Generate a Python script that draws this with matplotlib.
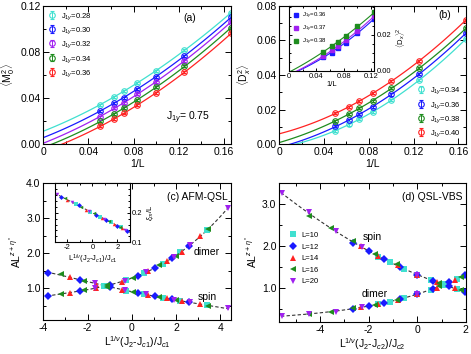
import numpy as np
import matplotlib
matplotlib.use("Agg")
import matplotlib.pyplot as plt
from matplotlib.ticker import MultipleLocator, FuncFormatter

plt.rcParams['font.family'] = ['Liberation Sans', 'DejaVu Sans']
plt.rcParams['mathtext.fontset'] = 'custom'
plt.rcParams['mathtext.rm'] = 'Liberation Sans'
plt.rcParams['mathtext.it'] = 'Liberation Sans:italic'
plt.rcParams['mathtext.sf'] = 'Liberation Sans'
plt.rcParams['axes.unicode_minus'] = False
plt.rcParams['axes.linewidth'] = 0.8

# ---- data ----
L_sizes = [20, 16, 14, 12, 10, 8, 6]

# (a) <M0^2> vs 1/L
a_labels = ['0.28', '0.30', '0.32', '0.34', '0.36']
a_028 = [0.0343, 0.0410, 0.0460, 0.0530, 0.0637, 0.0816, 0.1140]
a_030 = [0.0286, 0.0358, 0.0404, 0.0482, 0.0583, 0.0767, 0.1100]
a_032 = [0.0240, 0.0312, 0.0358, 0.0433, 0.0542, 0.0724, 0.1060]
a_034 = [0.0199, 0.0262, 0.0312, 0.0384, 0.0493, 0.0678, 0.1010]
a_036 = [0.0156, 0.0219, 0.0268, 0.0338, 0.0447, 0.0626, 0.0960]
a_err = 0.0008

# (b) <Dx^2> vs 1/L
b_labels = ['0.34', '0.36', '0.38', '0.40']
b_034 = [0.0079, 0.0115, 0.0146, 0.0187, 0.0256, 0.0369, 0.0608]
b_036 = [0.0104, 0.0140, 0.0173, 0.0217, 0.0288, 0.0408, 0.0640]
b_038 = [0.0135, 0.0175, 0.0210, 0.0252, 0.0323, 0.0438, 0.0669]
b_040 = [0.0179, 0.0217, 0.0250, 0.0294, 0.0365, 0.0481, 0.0717]
b_err = 0.0006

# (b) inset <Dx>^2 vs 1/L (L = 20 ... 8)
bi_labels = ['0.36', '0.37', '0.38']
bi_036 = [0.0075, 0.0101, 0.0127, 0.0156, 0.0211, 0.0288]
bi_037 = [0.0081, 0.0114, 0.0138, 0.0169, 0.0220, 0.0303]
bi_038 = [0.0105, 0.0138, 0.0160, 0.0193, 0.0246, 0.0323]

# (c) AFM-QSL collapse
c_x_L10 = [-1.25, -0.25, 0.55, 1.4, 2.2, 3.4]
c_spin_L10 = [1.08, 0.94, 0.84, 0.74, 0.65, 0.52]
c_dimer_L10 = [1.07, 1.23, 1.44, 1.71, 2.03, 2.66]
c_x_L12 = [-3.8, -2.35, -1.0, 0.3, 1.05, 1.8, 2.6]
c_spin_L12 = [1.45, 1.25, 1.03, 0.87, 0.78, 0.69, 0.60]
c_dimer_L12 = [0.79, 0.93, 1.11, 1.37, 1.59, 1.86, 2.22]
c_x_L14 = [-2.8, -1.6, -0.45, 0.75, 1.6, 2.25, 3.1]
c_spin_L14 = [1.32, 1.14, 0.97, 0.82, 0.72, 0.64, 0.55]
c_dimer_L14 = [0.88, 1.02, 1.18, 1.50, 1.78, 2.05, 2.49]
c_x_L16 = [-3.2, -2.15, -1.1, 0.05, 1.25, 2.0, 3.45]
c_spin_L16 = [1.40, 1.22, 1.05, 0.90, 0.76, 0.67, 0.51]
c_dimer_L16 = [0.84, 0.95, 1.09, 1.30, 1.66, 1.94, 2.69]
c_x_L20 = [-1.65, -0.3, 0.65, 1.9, 2.65, 4.35]
c_spin_L20 = [1.15, 0.95, 0.83, 0.68, 0.60, 0.43]
c_dimer_L20 = [1.01, 1.22, 1.47, 1.90, 2.25, 3.30]

# (c) inset xi/L
ci_x_L10 = [-1.3, -0.2, 0.6, 1.5, 2.3]
ci_xi_L10 = [0.229, 0.204, 0.187, 0.167, 0.150]
ci_x_L12 = [-2.5, -1.1, 0.3, 1.1, 2.0, 2.8]
ci_xi_L12 = [0.255, 0.225, 0.194, 0.176, 0.156, 0.137]
ci_x_L14 = [-2.0, -0.5, 0.8, 1.7, 2.4]
ci_xi_L14 = [0.244, 0.211, 0.182, 0.162, 0.147]
ci_x_L16 = [-2.2, -0.9, 0.1, 1.3, 2.2]
ci_xi_L16 = [0.249, 0.220, 0.198, 0.171, 0.151]
ci_x_L20 = [-2.85, -1.6, -0.3, 0.9, 2.6]
ci_xi_L20 = [0.263, 0.236, 0.207, 0.180, 0.141]

# (d) QSL-VBS collapse
d_x_L10 = [-1.6, -1.1, -0.55, 0.0, 0.55, 1.1, 1.65]
d_spin_L10 = [1.74, 1.62, 1.46, 1.31, 1.19, 1.08, 0.98]
d_dimer_L10 = [0.62, 0.68, 0.76, 0.86, 0.95, 1.09, 1.22]
d_x_L12 = [-2.65, -2.0, -1.35, -0.7, 0.0, 0.65, 1.3, 1.95]
d_spin_L12 = [2.06, 1.88, 1.68, 1.50, 1.31, 1.17, 1.04, 0.90]
d_dimer_L12 = [0.51, 0.58, 0.65, 0.73, 0.86, 0.97, 1.14, 1.31]
d_x_L14 = [-2.3, -1.6, -0.8, 0.0, 0.8, 1.55]
d_spin_L14 = [1.99, 1.75, 1.54, 1.31, 1.14, 1.00]
d_dimer_L14 = [0.55, 0.62, 0.72, 0.86, 1.01, 1.20]
d_x_L16 = [-4.45, -3.55, -2.65, -1.75, -0.85, 0.9, 1.8]
d_spin_L16 = [2.71, 2.43, 2.12, 1.80, 1.56, 1.12, 0.95]
d_dimer_L16 = [0.38, 0.44, 0.52, 0.60, 0.71, 1.04, 1.26]
d_x_L20 = [-5.55, -4.45, -3.35, -2.25, 0.0]
d_spin_L20 = [3.25, 2.81, 2.35, 1.98, 1.31]
d_dimer_L20 = [0.34, 0.38, 0.44, 0.55, 0.86]

L_labels = ['L=10', 'L=12', 'L=14', 'L=16', 'L=20']

# ---- style ----
TURQ = '#40e0d0'
BLUE = '#1a1aff'
VIOL = '#a020f0'
GREEN = '#1e8c1e'
RED = '#ff2222'
L_colors = [TURQ, BLUE, RED, GREEN, VIOL]
L_markers = ['s', 'D', '^', '<', 'v']
FS = 7.5


def style_ax(ax, xmaj, xmin, ymaj, ymin):
    ax.xaxis.set_major_locator(MultipleLocator(xmaj))
    ax.xaxis.set_minor_locator(MultipleLocator(xmin))
    ax.yaxis.set_major_locator(MultipleLocator(ymaj))
    ax.yaxis.set_minor_locator(MultipleLocator(ymin))
    ax.tick_params(which='both', direction='in', top=True, right=True,
                   labelsize=FS, width=0.7, pad=2)
    ax.tick_params(which='major', length=4)
    ax.tick_params(which='minor', length=2)


def fmt_dec(n):
    return FuncFormatter(lambda v, p: '0' if abs(v) < 1e-9 else f'{v:.{n}f}')


fig = plt.figure(figsize=(4.71, 3.54), dpi=100)
inv_L = np.array([1.0 / L for L in L_sizes])
xfit = np.linspace(0, 1 / 6, 100)

# (a)
ax = fig.add_axes([0.092, 0.592, 0.399, 0.392])
for y, lab, col in zip([a_028, a_030, a_032, a_034, a_036], a_labels,
                       [TURQ, BLUE, VIOL, GREEN, RED]):
    c = np.polyfit(inv_L, y, 2)
    ax.plot(xfit, np.polyval(c, xfit), color=col, lw=0.9)
    ax.errorbar(inv_L, y, yerr=a_err, fmt='o', ms=4, mfc='none', mec=col,
                mew=0.8, ecolor=col, elinewidth=0.7, capsize=1.5,
                label=r'J$_{1y}$=' + lab)
ax.set_xlim(0, 1 / 6)
ax.set_ylim(0, 0.12)
style_ax(ax, 0.04, 0.02, 0.04, 0.02)
ax.xaxis.set_major_formatter(fmt_dec(2))
ax.yaxis.set_major_formatter(FuncFormatter(lambda v, p: f'{v:.2f}'))
ax.set_xlabel('1/L', fontsize=FS, labelpad=1)
ax.set_ylabel(r'$\langle$M$_0^2\rangle$', fontsize=FS, labelpad=2)
ax.legend(loc='upper left', fontsize=5.5, frameon=False, handlelength=1,
          handletextpad=0.6, labelspacing=0.45, borderaxespad=0.3)
ax.text(0.78, 0.91, '(a)', transform=ax.transAxes, fontsize=FS, ha='center', va='center')
ax.text(0.77, 0.19, r'J$_{1y}$= 0.75', transform=ax.transAxes, fontsize=FS,
        ha='center', va='center')

# (b)
ax = fig.add_axes([0.593, 0.592, 0.396, 0.392])
for y, lab, col in zip([b_034, b_036, b_038, b_040], b_labels,
                       [TURQ, BLUE, GREEN, RED]):
    c = np.polyfit(inv_L, y, 2)
    ax.plot(xfit, np.polyval(c, xfit), color=col, lw=0.9)
    ax.errorbar(inv_L, y, yerr=b_err, fmt='o', ms=4, mfc='none', mec=col,
                mew=0.8, ecolor=col, elinewidth=0.7, capsize=1.5,
                label=r'J$_{1y}$=' + lab)
ax.set_xlim(0, 1 / 6)
ax.set_ylim(0, 0.08)
style_ax(ax, 0.04, 0.02, 0.02, 0.01)
ax.xaxis.set_major_formatter(fmt_dec(2))
ax.yaxis.set_major_formatter(FuncFormatter(lambda v, p: f'{v:.2f}'))
ax.set_xlabel('1/L', fontsize=FS, labelpad=1)
ax.set_ylabel(r'$\langle$D$_x^2\rangle$', fontsize=FS, labelpad=2)
ax.legend(loc='lower right', fontsize=5.5, frameon=False, handlelength=1,
          handletextpad=0.6, labelspacing=0.45, borderaxespad=0.3)
ax.text(0.887, 0.93, '(b)', transform=ax.transAxes, fontsize=FS, ha='center', va='center')

# (b) inset
ins = fig.add_axes([0.614, 0.80, 0.181, 0.184])
xi = inv_L[:6]
xfit2 = np.linspace(0, 0.125, 100)
for y, lab, col in zip([bi_036, bi_037, bi_038], bi_labels, [BLUE, VIOL, GREEN]):
    c = np.polyfit(xi, y, 2)
    ins.plot(xfit2, np.polyval(c, xfit2), color=col, lw=0.8)
    ins.plot(xi, y, 's', ms=2.8, color=col, label=r'J$_{1y}$=' + lab)
ins.set_xlim(0, 0.125)
ins.set_ylim(0, 0.036)
style_ax(ins, 0.04, 0.02, 0.02, 0.005)
ins.tick_params(labelsize=5.5, labelleft=False, labelright=True, length=2.5, pad=1.5)
ins.tick_params(which='minor', length=1.3)
ins.xaxis.set_major_formatter(fmt_dec(2))
ins.yaxis.set_major_formatter(FuncFormatter(lambda v, p: f'{v:.2f}'))
ins.yaxis.set_label_position('right')
ins.set_ylabel(r'$\langle$D$_x\rangle^2$', fontsize=5.5, labelpad=2)
ins.set_xlabel('1/L', fontsize=5.5, labelpad=1)
ins.legend(loc='upper left', fontsize=4.3, frameon=False, handlelength=0.8,
           handletextpad=0.6, labelspacing=0.5, borderaxespad=0.4)

# (c)
ax = fig.add_axes([0.092, 0.096, 0.399, 0.386])
cx = [c_x_L10, c_x_L12, c_x_L14, c_x_L16, c_x_L20]
cs = [c_spin_L10, c_spin_L12, c_spin_L14, c_spin_L16, c_spin_L20]
cd = [c_dimer_L10, c_dimer_L12, c_dimer_L14, c_dimer_L16, c_dimer_L20]
allx = np.concatenate(cx)
xf = np.linspace(allx.min() - 0.05, allx.max() + 0.05, 200)
for ys in (cs, cd):
    c = np.polyfit(allx, np.concatenate(ys), 4)
    ax.plot(xf, np.polyval(c, xf), color='#333333', lw=0.8, ls=(0, (3, 2)), zorder=1)
for x, s, d, col, m in zip(cx, cs, cd, L_colors, L_markers):
    ax.plot(x, s, m, ms=3.8, color=col, mew=0, zorder=2)
    ax.plot(x, d, m, ms=3.8, color=col, mew=0, zorder=2)
ax.set_xlim(-4, 4.5)
ax.set_ylim(0.1, 4.0)
style_ax(ax, 2, 1, 1.0, 0.5)
ax.xaxis.set_major_formatter(FuncFormatter(lambda v, p: f'{v:.0f}'))
ax.yaxis.set_major_formatter(FuncFormatter(lambda v, p: f'{v:.1f}' if v >= 0.99 else ''))
ax.set_xlabel(r'L$^{1/\nu}$(J$_2$-J$_{c1}$)/J$_{c1}$', fontsize=FS, labelpad=1)
ax.set_ylabel(r'AL$^{z+\eta^*}$', fontsize=FS, labelpad=2)
ax.text(0.98, 0.90, '(c) AFM-QSL', transform=ax.transAxes, fontsize=FS, ha='right', va='center')
ax.text(0.87, 0.495, 'dimer', transform=ax.transAxes, fontsize=FS, ha='center', va='center')
ax.text(0.87, 0.166, 'spin', transform=ax.transAxes, fontsize=FS, ha='center', va='center')

# (c) inset
ins = fig.add_axes([0.116, 0.316, 0.160, 0.166])
cix = [ci_x_L10, ci_x_L12, ci_x_L14, ci_x_L16, ci_x_L20]
ciy = [ci_xi_L10, ci_xi_L12, ci_xi_L14, ci_xi_L16, ci_xi_L20]
ax_all = np.concatenate(cix)
c = np.polyfit(ax_all, np.concatenate(ciy), 1)
xf = np.linspace(-3, 3, 50)
ins.plot(xf, np.polyval(c, xf), color='#333333', lw=0.7, ls=(0, (3, 2)), zorder=1)
for x, y, col, m in zip(cix, ciy, L_colors, L_markers):
    ins.plot(x, y, m, ms=2.5, color=col, mew=0, zorder=2)
ins.set_xlim(-3, 3)
ins.set_ylim(0.1, 0.3)
style_ax(ins, 2, 1, 0.1, 0.02)
ins.tick_params(labelsize=5.5, labelleft=False, labelright=True, length=2.5, pad=1.5)
ins.tick_params(which='minor', length=1.3)
ins.xaxis.set_major_formatter(FuncFormatter(lambda v, p: f'{v:.0f}'))
ins.yaxis.set_major_formatter(FuncFormatter(lambda v, p: f'{v:.1f}' if v < 0.25 else ''))
ins.yaxis.set_label_position('right')
ins.set_ylabel(r'$\xi_m$/L', fontsize=5.5, labelpad=2)
ins.set_xlabel(r'L$^{1/\nu}$(J$_2$-J$_{c1}$)/J$_{c1}$', fontsize=5.5, labelpad=1)

# (d)
ax = fig.add_axes([0.593, 0.091, 0.396, 0.393])
dx = [d_x_L10, d_x_L12, d_x_L14, d_x_L16, d_x_L20]
ds = [d_spin_L10, d_spin_L12, d_spin_L14, d_spin_L16, d_spin_L20]
dd = [d_dimer_L10, d_dimer_L12, d_dimer_L14, d_dimer_L16, d_dimer_L20]
allx = np.concatenate(dx)
xf = np.linspace(allx.min() - 0.05, 2.0, 200)
for ys in (ds, dd):
    c = np.polyfit(allx, np.concatenate(ys), 3)
    ax.plot(xf, np.polyval(c, xf), color='#333333', lw=0.8, ls=(0, (3, 2)), zorder=1)
for x, s, d, col, m, lab in zip(dx, ds, dd, L_colors, L_markers, L_labels):
    ax.plot(x, s, m, ms=3.8, color=col, mew=0, zorder=2, label=lab)
    ax.plot(x, d, m, ms=3.8, color=col, mew=0, zorder=2)
ax.set_xlim(-5.67, 2)
ax.set_ylim(0.2, 3.5)
style_ax(ax, 2, 1, 1.0, 0.5)
ax.xaxis.set_major_formatter(FuncFormatter(lambda v, p: f'{v:.0f}'))
ax.yaxis.set_major_formatter(FuncFormatter(lambda v, p: f'{v:.1f}' if v >= 0.99 else ''))
ax.set_xlabel(r'L$^{1/\nu}$(J$_2$-J$_{c2}$)/J$_{c2}$', fontsize=FS, labelpad=1)
ax.set_ylabel(r'AL$^{z+\eta^*}$', fontsize=FS, labelpad=2)
ax.legend(loc='upper left', bbox_to_anchor=(0.03, 0.68), fontsize=5.5, frameon=False,
          handlelength=1, handletextpad=0.6, labelspacing=0.55, borderaxespad=0.2)
ax.text(0.98, 0.90, '(d) QSL-VBS', transform=ax.transAxes, fontsize=FS, ha='right', va='center')
ax.text(0.50, 0.61, 'spin', transform=ax.transAxes, fontsize=FS, ha='center', va='center')
ax.text(0.51, 0.197, 'dimer', transform=ax.transAxes, fontsize=FS, ha='center', va='center')

fig.savefig('out.png', dpi=100)
